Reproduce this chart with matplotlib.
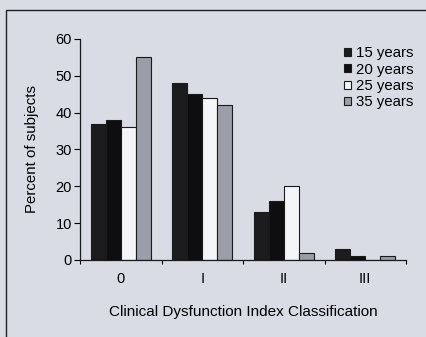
import numpy as np
import matplotlib
matplotlib.use('Agg')
import matplotlib.pyplot as plt
from matplotlib.patches import Rectangle

# данные
categories = ['0', 'I', 'II', 'III']
series = ['15 years', '20 years', '25 years', '35 years']
v15 = [37, 48, 13, 3]
v20 = [38, 45, 16, 1]
v25 = [36, 44, 20, 0]
v35 = [55, 42, 2, 1]

colors = ['#1c1c1e', '#0e0e10', '#f4f5f8', '#9b9ea8']
bg = '#d9dce5'

plt.rcParams['font.family'] = ['Liberation Sans', 'DejaVu Sans']

fig = plt.figure(figsize=(4.26, 3.37), dpi=100, facecolor=bg)
ax = fig.add_axes([0.188, 0.2285, 0.765, 0.656])
ax.set_facecolor(bg)

# рамка вокруг рисунка
fig.patches.append(Rectangle((6/426, -0.1), 1.2, 1 - 10/337 + 0.1,
                             transform=fig.transFigure, fill=False,
                             edgecolor='#202020', linewidth=1.0))

x = np.arange(len(categories))
w = 0.185
for i, (vals, name) in enumerate(zip([v15, v20, v25, v35], series)):
    ax.bar(x + (i - 1.5) * w, vals, w, color=colors[i], edgecolor='#1a1a1a',
           linewidth=0.8, label=name)

ax.set_xlim(-0.5, 3.5)
ax.set_ylim(0, 60)
ax.set_yticks(range(0, 61, 10))
ax.set_xticks(x)
ax.set_xticklabels(categories)
ax.set_xticks(np.arange(-0.5, 3.6, 1), minor=True)
ax.tick_params(axis='x', which='major', length=0, pad=9, labelsize=10.5)
ax.tick_params(axis='x', which='minor', length=3, direction='out', width=0.8)
ax.tick_params(axis='y', length=4, width=0.8, labelsize=10.5, pad=2)

for s in ['top', 'right']:
    ax.spines[s].set_visible(False)
for s in ['left', 'bottom']:
    ax.spines[s].set_linewidth(0.9)
    ax.spines[s].set_color('#1a1a1a')

ax.set_ylabel('Percent of subjects', fontsize=10.8, labelpad=12)
ax.set_xlabel('Clinical Dysfunction Index Classification', fontsize=11,
              labelpad=13)

ax.legend(loc='upper right', bbox_to_anchor=(1.045, 1.0), frameon=False,
          fontsize=10.8, handlelength=0.45, handleheight=0.45,
          handletextpad=0.3, labelspacing=0.15, borderaxespad=0.1)

fig.savefig('out.png', dpi=100, facecolor=bg)
